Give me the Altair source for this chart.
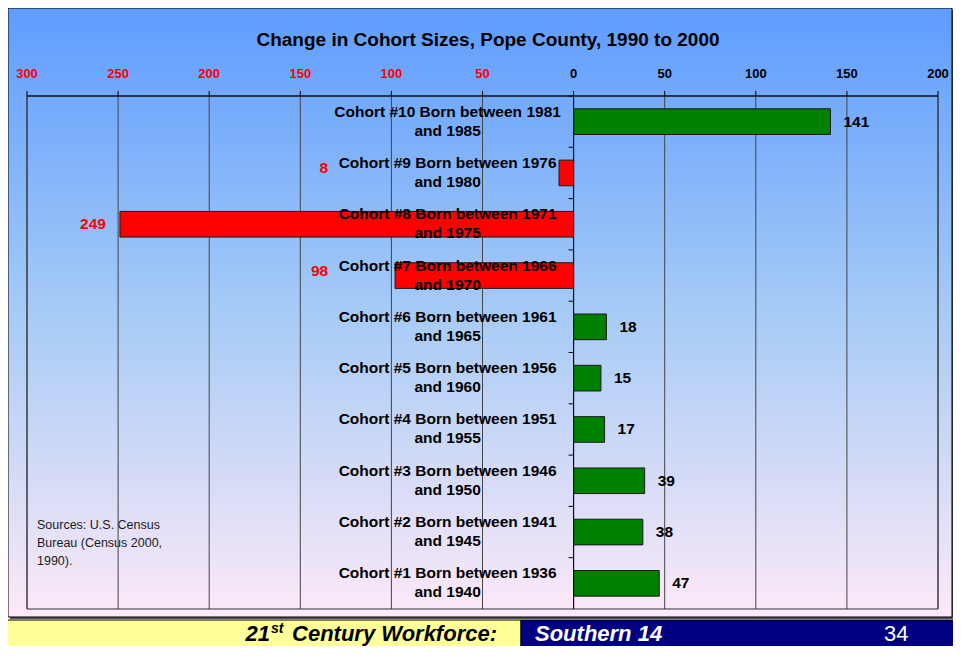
import altair as alt
import pandas as pd

# ---------------- data ----------------
categories = [
    "Cohort #10 Born between 1981\nand 1985",
    "Cohort #9 Born between 1976\nand 1980",
    "Cohort #8 Born between 1971\nand 1975",
    "Cohort #7 Born between 1966\nand 1970",
    "Cohort #6 Born between 1961\nand 1965",
    "Cohort #5 Born between 1956\nand 1960",
    "Cohort #4 Born between 1951\nand 1955",
    "Cohort #3 Born between 1946\nand 1950",
    "Cohort #2 Born between 1941\nand 1945",
    "Cohort #1 Born between 1936\nand 1940",
]
changes = [141, -8, -249, -98, 18, 15, 17, 39, 38, 47]
tick_values = [-300, -250, -200, -150, -100, -50, 0, 50, 100, 150, 200]
title_text = "Change in Cohort Sizes, Pope County, 1990 to 2000"
source_text = "Sources: U.S. Census\nBureau (Census 2000,\n1990)."
footer_left_num = "21"
footer_left_sup = "st"
footer_left_rest = "Century Workforce:"
footer_mid = "Southern 14"
footer_page = "34"

df = pd.DataFrame({"cohort": categories, "change": changes})
grid_df = pd.DataFrame({"v": tick_values})
zero_df = pd.DataFrame({"z": [0]})
one = pd.DataFrame({"a": [1]})

FONT = "Liberation Sans"
W, H = 911, 513
DOMAIN = [-300, 200]
step = H / len(categories)

xscale = alt.Scale(domain=DOMAIN, nice=False, zero=False)
yscale = alt.Scale(paddingInner=0.5, paddingOuter=0.25)
Y = alt.Y("cohort:N", sort=categories, scale=yscale, axis=None, title=None)

# ---------------- decorations ----------------
shadow = alt.Chart(one).mark_rect(fill="#555555").encode(
    x=alt.value(-17), x2=alt.value(928), y=alt.value(-86), y2=alt.value(523))
panel = alt.Chart(one).mark_rect(
    fill=alt.LinearGradient(
        gradient="linear",
        stops=[alt.GradientStop(color="#5e9cff", offset=0),
               alt.GradientStop(color="#a6cbf6", offset=0.5),
               alt.GradientStop(color="#fde9f8", offset=1)],
        x1=0, x2=0, y1=0, y2=1),
    stroke="black", strokeWidth=1,
).encode(x=alt.value(-19), x2=alt.value(925), y=alt.value(-88), y2=alt.value(521))

foot_yellow = alt.Chart(one).mark_rect(fill="#ffff99", stroke="black", strokeWidth=1).encode(
    x=alt.value(-25), x2=alt.value(494), y=alt.value(524), y2=alt.value(570))
foot_navy = alt.Chart(one).mark_rect(fill="#000080", stroke="black", strokeWidth=1).encode(
    x=alt.value(494), x2=alt.value(940), y=alt.value(524), y2=alt.value(570))

FY = 545
FS = 22
ft1 = alt.Chart(one).mark_text(font=FONT, fontSize=FS, fontWeight="bold", fontStyle="italic",
                               align="right", baseline="alphabetic", color="black").encode(
    x=alt.value(243), y=alt.value(FY), text=alt.value(footer_left_num))
ft2 = alt.Chart(one).mark_text(font=FONT, fontSize=14, fontWeight="bold", fontStyle="italic",
                               align="left", baseline="alphabetic", color="black").encode(
    x=alt.value(244), y=alt.value(FY - 8), text=alt.value(footer_left_sup))
ft3 = alt.Chart(one).mark_text(font=FONT, fontSize=FS, fontWeight="bold", fontStyle="italic",
                               align="right", baseline="alphabetic", color="black").encode(
    x=alt.value(470), y=alt.value(FY), text=alt.value(footer_left_rest))
ft4 = alt.Chart(one).mark_text(font=FONT, fontSize=FS, fontWeight="bold", fontStyle="italic",
                               align="left", baseline="alphabetic", color="white").encode(
    x=alt.value(508), y=alt.value(FY), text=alt.value(footer_mid))
ft5 = alt.Chart(one).mark_text(font=FONT, fontSize=FS, align="left", baseline="alphabetic",
                               color="white").encode(
    x=alt.value(857), y=alt.value(FY), text=alt.value(footer_page))

title = alt.Chart(one).mark_text(font=FONT, fontSize=19, fontWeight="bold", align="center",
                                 baseline="alphabetic", color="black").encode(
    x=alt.value(461), y=alt.value(-50), text=alt.value(title_text))

sources = alt.Chart(one).mark_text(font=FONT, fontSize=12.5, align="left", baseline="alphabetic",
                                   color="#1a1a1a", lineBreak="\n", lineHeight=18).encode(
    x=alt.value(10), y=alt.value(433), text=alt.value(source_text))

# ---------------- axes drawn from the tick / category arrays ----------------
grid = alt.Chart(grid_df).mark_rule(color="#444444", strokeWidth=1).encode(
    x=alt.X("v:Q", scale=xscale, axis=None, title=None))

frame = alt.Chart(one).mark_rect(fillOpacity=0, stroke="#333333", strokeWidth=1).encode(
    x=alt.value(0), x2=alt.value(W), y=alt.value(0), y2=alt.value(H))

x_domain = alt.Chart(one).mark_rule(color="black", strokeWidth=1).encode(
    x=alt.value(0), x2=alt.value(W), y=alt.value(0))

x_ticks = alt.Chart(grid_df).mark_rule(color="black", strokeWidth=1).encode(
    x=alt.X("v:Q", scale=xscale, axis=None, title=None), y=alt.value(-5), y2=alt.value(0))

x_labels = alt.Chart(grid_df).transform_calculate(lab="abs(datum.v)").mark_text(
    font=FONT, fontSize=13, fontWeight="bold", align="center", baseline="alphabetic").encode(
    x=alt.X("v:Q", scale=xscale, axis=None, title=None),
    y=alt.value(-18),
    text=alt.Text("lab:Q"),
    color=alt.condition("datum.v < 0", alt.value("#ff0000"), alt.value("black")),
)

y_domain = alt.Chart(zero_df).mark_rule(color="black", strokeWidth=1).encode(
    x=alt.X("z:Q", scale=xscale, axis=None, title=None))

y_ticks = alt.Chart(df).transform_calculate(z="0", z2="0").mark_rule(
    color="black", strokeWidth=1, xOffset=-5, yOffset=-step / 2).encode(
    x=alt.X("z:Q", scale=xscale, axis=None, title=None), x2="z2:Q", y=Y)

y_labels = alt.Chart(df).transform_calculate(z="0").mark_text(
    font=FONT, fontSize=15.5, fontWeight="bold", color="black", align="center",
    baseline="middle", lineBreak="\n", lineHeight=19, dx=-126, dy=-10).encode(
    x=alt.X("z:Q", scale=xscale, axis=None, title=None), y=Y, text="cohort:N")

# ---------------- data marks ----------------
bars = alt.Chart(df).mark_bar(stroke="#1a1a1a", strokeWidth=1).encode(
    x=alt.X("change:Q", scale=xscale, axis=None, title=None),
    y=Y,
    color=alt.condition("datum.change < 0", alt.value("#ff0000"), alt.value("#008000")),
)

neg_long = alt.Chart(df).transform_filter("datum.change <= -127").transform_calculate(
    lab="abs(datum.change)"
).mark_text(font=FONT, fontSize=15.5, fontWeight="bold", color="#ff0000",
            align="right", baseline="middle", dx=-14).encode(
    x=alt.X("change:Q", scale=xscale, axis=None, title=None),
    y=Y,
    text=alt.Text("lab:Q"),
)

neg_short = alt.Chart(df).transform_filter(
    "datum.change < 0 && datum.change > -127"
).transform_calculate(lx="-127", lab="abs(datum.change)").mark_text(
    font=FONT, fontSize=15.5, fontWeight="bold", color="#ff0000",
    align="right", baseline="middle", dx=-14, dy=-5).encode(
    x=alt.X("lx:Q", scale=xscale, axis=None, title=None),
    y=Y,
    text=alt.Text("lab:Q"),
)

pos_labels = alt.Chart(df).transform_filter("datum.change >= 0").mark_text(
    font=FONT, fontSize=15.5, fontWeight="bold", color="black",
    align="left", baseline="middle", dx=13).encode(
    x=alt.X("change:Q", scale=xscale, axis=None, title=None),
    y=Y,
    text=alt.Text("change:Q"),
)

chart = alt.layer(
    shadow, panel, foot_yellow, foot_navy, ft1, ft2, ft3, ft4, ft5,
    title, sources, grid, frame, bars, y_labels, neg_long, neg_short, pos_labels,
    x_domain, x_ticks, x_labels, y_domain, y_ticks,
).properties(
    width=W, height=H,
    autosize=alt.AutoSizeParams(type="none"),
    padding={"left": 19, "top": 88, "right": 15, "bottom": 37},
    background="white",
).configure_view(stroke=None)

chart.save("out.html", embed_options={"renderer": "svg", "actions": False})
